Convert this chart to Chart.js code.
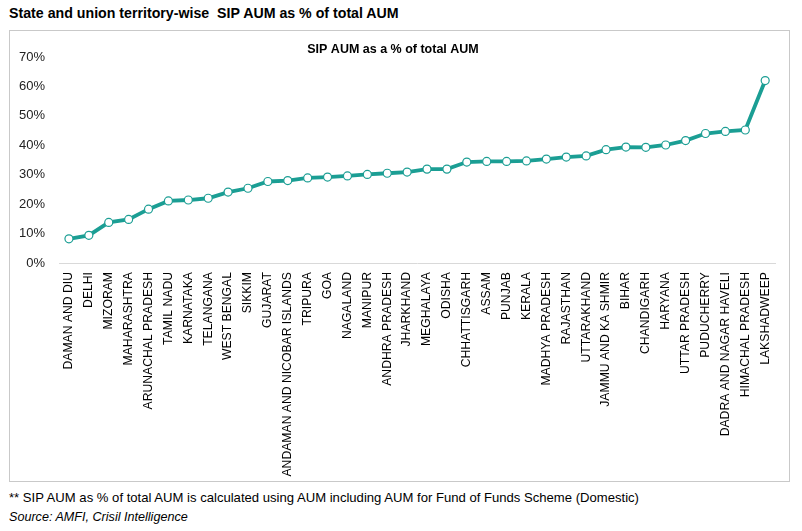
<!DOCTYPE html>
<html>
<head>
<meta charset="utf-8">
<script src="https://cdn.jsdelivr.net/npm/chart.js@4.4.1/dist/chart.umd.min.js"></script>
<style>
  html, body { margin: 0; padding: 0; background: #fff; }
  body { width: 802px; height: 531px; position: relative; font-family: "Liberation Sans", Arial, sans-serif; color: #000; }
  #title { position: absolute; left: 9px; top: 5px; font-size: 14.2px; font-weight: bold; white-space: pre; }
  #box { position: absolute; left: 9px; top: 30px; width: 779px; height: 450px; border: 1px solid #c9c9c9; }
  #note { position: absolute; left: 9px; top: 490px; font-size: 13.1px; }
  #source { position: absolute; left: 9px; top: 510px; font-size: 12.6px; font-style: italic; }
</style>
</head>
<body>
<div id="title">State and union territory-wise  SIP AUM as % of total AUM</div>
<div id="box"><canvas id="sipChart" width="779" height="450"></canvas></div>
<div id="note">** SIP AUM as % of total AUM is calculated using AUM including AUM for Fund of Funds Scheme (Domestic)</div>
<div id="source">Source: AMFI, Crisil Intelligence</div>
<script>
// states / UTs, sorted by share
const states = [
  'DAMAN AND DIU', 'DELHI', 'MIZORAM', 'MAHARASHTRA', 'ARUNACHAL PRADESH', 'TAMIL NADU',
  'KARNATAKA', 'TELANGANA', 'WEST BENGAL', 'SIKKIM', 'GUJARAT', 'ANDAMAN AND NICOBAR ISLANDS',
  'TRIPURA', 'GOA', 'NAGALAND', 'MANIPUR', 'ANDHRA PRADESH', 'JHARKHAND', 'MEGHALAYA', 'ODISHA',
  'CHHATTISGARH', 'ASSAM', 'PUNJAB', 'KERALA', 'MADHYA PRADESH', 'RAJASTHAN', 'UTTARAKHAND',
  'JAMMU AND KA SHMIR', 'BIHAR', 'CHANDIGARH', 'HARYANA', 'UTTAR PRADESH', 'PUDUCHERRY',
  'DADRA AND NAGAR HAVELI', 'HIMACHAL PRADESH', 'LAKSHADWEEP'
];
// SIP AUM as % of total AUM
const sipShare = [
  8.2, 9.4, 13.8, 14.8, 18.3, 21.1, 21.4, 22.0, 24.1, 25.4, 27.7, 28.0,
  28.9, 29.2, 29.6, 30.1, 30.5, 30.9, 31.9, 31.9, 34.3, 34.5, 34.5, 34.7,
  35.3, 36.0, 36.4, 38.5, 39.4, 39.3, 40.1, 41.6, 44.0, 44.7, 45.2, 62.0
];
const yTicks = [0, 10, 20, 30, 40, 50, 60, 70];

const teal = '#1b9e94';

new Chart(document.getElementById('sipChart'), {
  type: 'line',
  data: {
    labels: states,
    datasets: [{
      data: sipShare,
      borderColor: teal,
      borderWidth: 3.8,
      backgroundColor: '#ffffff',
      pointBackgroundColor: '#ffffff',
      pointBorderColor: teal,
      pointBorderWidth: 1.2,
      pointRadius: 4,
      tension: 0,
      fill: false
    }]
  },
  options: {
    responsive: false,
    animation: false,
    layout: { padding: { left: 0, right: 13, top: 0, bottom: 0 } },
    plugins: {
      legend: { display: false },
      tooltip: { enabled: false },
      title: {
        display: true,
        text: 'SIP AUM as a % of total AUM',
        color: '#000',
        font: { family: 'Liberation Sans, Arial, sans-serif', size: 12.5, weight: 'bold' },
        padding: { top: 11, bottom: 0 }
      }
    },
    scales: {
      x: {
        offset: true,
        grid: { display: false, drawTicks: false },
        border: { display: true, color: '#d9d9d9', width: 1 },
        ticks: {
          autoSkip: false,
          minRotation: 90,
          maxRotation: 90,
          padding: 9,
          color: '#000',
          font: { family: 'Liberation Sans, Arial, sans-serif', size: 12.2 }
        },
        afterFit: (scale) => { scale.height = 218; }
      },
      y: {
        min: 0,
        max: 70,
        grid: { display: false, drawTicks: false },
        border: { display: false },
        afterBuildTicks: (scale) => { scale.ticks = yTicks.map(v => ({ value: v })); },
        ticks: {
          padding: 14,
          color: '#222',
          font: { family: 'Liberation Sans, Arial, sans-serif', size: 13 },
          callback: (v) => v + '%'
        },
        afterFit: (scale) => { scale.width = 49; }
      }
    }
  }
});
</script>
</body>
</html>
